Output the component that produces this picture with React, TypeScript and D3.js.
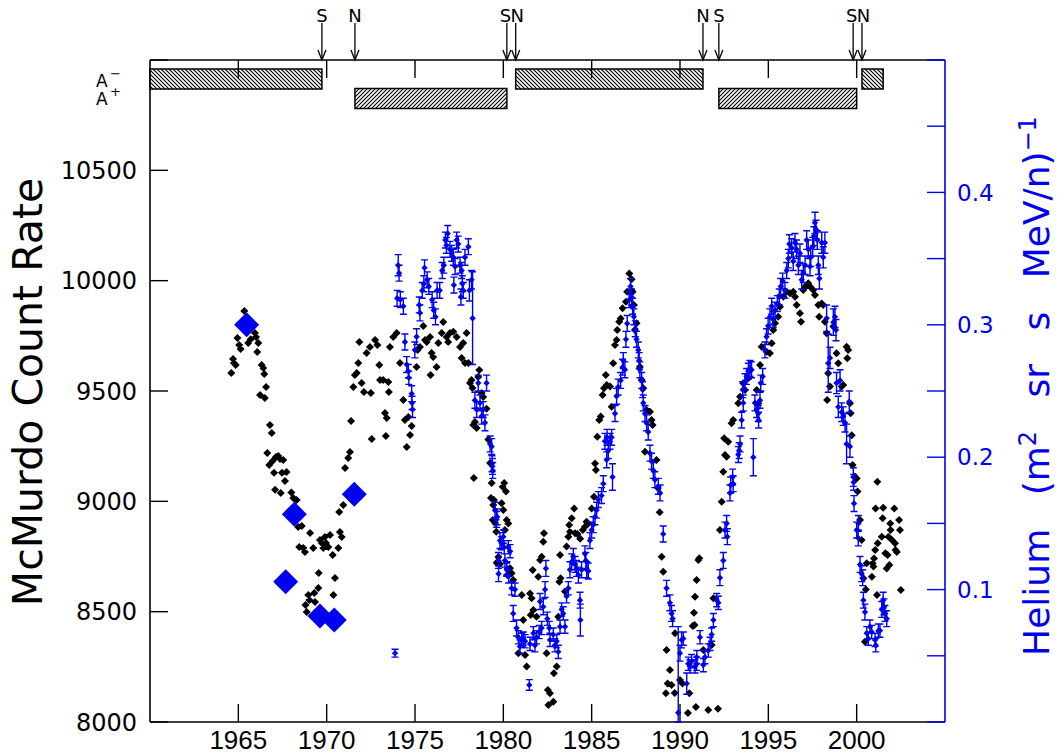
import React from 'react';
import * as d3 from 'd3';

// ---- axis ticks ----
const yearTicks = [1965, 1970, 1975, 1980, 1985, 1990, 1995, 2000];
const countTicks = [8000, 8500, 9000, 9500, 10000, 10500, 11000];
const countLabels = [8000, 8500, 9000, 9500, 10000, 10500];
const heliumTicks = [0, 0.05, 0.1, 0.15, 0.2, 0.25, 0.3, 0.35, 0.4, 0.45, 0.5];
const heliumLabels = [0.1, 0.2, 0.3, 0.4];

// ---- solar polarity epochs (A- / A+) and field reversal markers ----
const polarityMinus: [number, number][] = [[1960, 1969.73], [1980.7, 1991.3], [2000.3, 2001.5]];
const polarityPlus: [number, number][] = [[1971.6, 1980.2], [1992.2, 2000.0]];
const reversalYears = [1969.73, 1971.6, 1980.2, 1980.7, 1991.3, 1992.2, 1999.8, 2000.3];
const reversalPoles = ['S', 'N', 'S', 'N', 'N', 'S', 'S', 'N'];

// ---- older balloon helium measurements ----
const heliumBalloon: [number, number][] = [
  [1965.47, 0.300], [1967.68, 0.106], [1968.17, 0.157], [1969.62, 0.080], [1970.43, 0.077], [1971.56, 0.172],
];

// ---- McMurdo neutron monitor count rate ----
const countRate: [number, number][] = [
  [1964.60, 9582], [1964.70, 9645], [1964.75, 9627], [1964.85, 9618], [1964.95, 9740], [1965.05, 9708], [1965.13, 9690],
  [1965.34, 9863], [1965.56, 9717], [1965.70, 9735], [1965.94, 9763], [1966.00, 9745], [1966.07, 9677], [1966.13, 9717],
  [1966.23, 9482], [1966.32, 9618], [1966.41, 9604], [1966.47, 9577], [1966.50, 9468], [1966.57, 9518], [1966.64, 9219],
  [1966.75, 9165], [1966.79, 9346], [1966.89, 9310], [1966.94, 9183], [1967.02, 9129], [1967.08, 9052], [1967.13, 9201],
  [1967.26, 9206], [1967.36, 9192], [1967.40, 9038], [1967.47, 9129], [1967.54, 9187], [1967.64, 9092], [1967.73, 9133],
  [1968.00, 9040], [1968.11, 9015], [1968.30, 9006], [1968.39, 8884], [1968.45, 8793], [1968.59, 8888], [1968.68, 8789],
  [1968.77, 8770], [1968.80, 8530], [1968.87, 8499], [1968.96, 8576], [1969.02, 8553], [1969.06, 8857], [1969.24, 8789],
  [1969.30, 8585], [1969.34, 8544], [1969.53, 8607], [1969.55, 8675], [1969.62, 8825], [1969.72, 8811], [1969.81, 8789],
  [1969.90, 8838], [1969.96, 8811], [1970.09, 8793], [1970.19, 8847], [1970.34, 8757], [1970.38, 8576], [1970.47, 8653],
  [1970.66, 8789], [1970.71, 8952], [1970.75, 8861], [1970.85, 8838], [1970.94, 8983], [1971.04, 9151], [1971.22, 9196],
  [1971.32, 9224], [1971.38, 9364], [1971.51, 9518], [1971.60, 9573], [1971.70, 9582], [1971.79, 9627], [1971.85, 9722],
  [1971.98, 9536], [1972.11, 9496], [1972.26, 9672], [1972.45, 9699], [1972.50, 9491], [1972.55, 9283], [1972.74, 9731],
  [1972.87, 9708], [1972.98, 9618], [1973.02, 9550], [1973.20, 9550], [1973.30, 9400], [1973.35, 9296], [1973.40, 9378],
  [1973.49, 9541], [1973.52, 9496], [1973.58, 9699], [1973.77, 9745], [1973.96, 9763], [1974.15, 9627], [1974.34, 9459],
  [1974.43, 9369], [1974.53, 9246], [1974.62, 9382], [1974.72, 9301], [1974.81, 9341], [1975.09, 9609], [1975.15, 9686],
  [1975.28, 9699], [1975.47, 9795], [1975.57, 9731], [1975.66, 9722], [1975.85, 9745], [1975.88, 9573], [1975.94, 9672],
  [1976.03, 9654], [1976.22, 9609], [1976.32, 9717], [1976.51, 9763], [1976.60, 9813], [1976.79, 9745], [1976.88, 9722],
  [1976.98, 9763], [1977.17, 9768], [1977.36, 9745], [1977.55, 9699], [1977.64, 9650], [1977.73, 9717], [1977.83, 9627],
  [1977.92, 9763], [1978.02, 9627], [1978.11, 9536], [1978.20, 9550], [1978.25, 9514], [1978.30, 9346], [1978.33, 9106],
  [1978.39, 9360], [1978.49, 9332], [1978.58, 9563], [1978.64, 9595], [1978.77, 9491], [1978.86, 9473], [1979.05, 9420],
  [1979.15, 9280], [1979.25, 9174], [1979.30, 9015], [1979.34, 9083], [1979.40, 8915], [1979.43, 8983], [1979.47, 9006],
  [1979.53, 8902], [1979.60, 8862], [1979.62, 8722], [1979.72, 8748], [1979.81, 8716], [1979.90, 8991], [1979.96, 9066],
  [1980.00, 8961], [1980.05, 9083], [1980.09, 8870], [1980.15, 9044], [1980.19, 8915], [1980.22, 8666], [1980.28, 8900],
  [1980.38, 8697], [1980.47, 8674], [1980.56, 8644], [1980.85, 8311], [1981.04, 8576], [1981.13, 8462], [1981.23, 8304],
  [1981.32, 8251], [1981.51, 8582], [1981.55, 8485], [1981.60, 8561], [1981.66, 8689], [1981.70, 8508], [1981.88, 8477],
  [1981.98, 8658], [1982.08, 8734], [1982.17, 8749], [1982.26, 8817], [1982.30, 8855], [1982.45, 8311], [1982.52, 8145],
  [1982.55, 8077], [1982.64, 8130], [1982.83, 8092], [1982.86, 8221], [1983.02, 8251], [1983.11, 8477], [1983.17, 8636],
  [1983.21, 8757], [1983.24, 8651], [1983.49, 8591], [1983.58, 8795], [1983.68, 8840], [1983.73, 8893], [1983.77, 8862],
  [1983.87, 8923], [1984.01, 8968], [1984.06, 8855], [1984.20, 8852], [1984.35, 8830], [1984.50, 8870], [1984.62, 8885],
  [1984.71, 8908], [1984.81, 8900], [1985.00, 8968], [1985.13, 9021], [1985.19, 9172], [1985.24, 9142], [1985.32, 9293],
  [1985.43, 9369], [1985.51, 9384], [1985.62, 9482], [1985.70, 9512], [1985.80, 9573], [1985.85, 9527], [1986.04, 9520],
  [1986.13, 9429], [1986.22, 9626], [1986.32, 9709], [1986.41, 9731], [1986.45, 9777], [1986.56, 9814], [1986.64, 9829],
  [1986.75, 9875], [1986.94, 9905], [1987.01, 9950], [1987.13, 10033], [1987.26, 10006], [1987.32, 9950], [1987.39, 9890],
  [1987.45, 9777], [1987.54, 9807], [1987.73, 9610], [1987.83, 9550], [1987.92, 9512], [1988.02, 9225], [1988.11, 9414],
  [1988.30, 9406], [1988.39, 9369], [1988.45, 9346], [1988.67, 9187], [1988.75, 9060], [1988.85, 8950], [1988.96, 8749],
  [1989.05, 8681], [1989.20, 8130], [1989.24, 8326], [1989.30, 8175], [1989.43, 8236], [1989.52, 8168], [1989.70, 8131],
  [1989.72, 8402], [1990.00, 8190], [1990.14, 8175], [1990.45, 8041], [1990.53, 8130], [1990.72, 8435], [1990.79, 8495],
  [1990.82, 8440], [1990.85, 8568], [1990.90, 8068], [1990.94, 8644], [1991.04, 8734], [1991.09, 8742], [1991.32, 8326],
  [1991.60, 8054], [1991.79, 8349], [1991.89, 8561], [1992.15, 8060], [1992.26, 8870], [1992.36, 8998], [1992.45, 9134],
  [1992.50, 9286], [1992.55, 9210], [1992.64, 9202], [1992.73, 9270], [1992.92, 9354], [1993.01, 9369], [1993.30, 9444],
  [1993.40, 9474], [1993.58, 9535], [1993.68, 9505], [1993.87, 9558], [1993.96, 9595], [1994.34, 9505], [1994.43, 9444],
  [1994.53, 9618], [1994.62, 9701], [1994.90, 9678], [1995.09, 9671], [1995.19, 9716], [1995.28, 9777], [1995.38, 9807],
  [1995.56, 9837], [1995.66, 9882], [1995.85, 9927], [1996.04, 9950], [1996.23, 9943], [1996.41, 9950], [1996.51, 9927],
  [1996.60, 9890], [1996.79, 9852], [1996.85, 9814], [1996.98, 9958], [1997.08, 9973], [1997.26, 9988], [1997.36, 9973],
  [1997.54, 9958], [1997.64, 9935], [1997.83, 9890], [1997.88, 9837], [1998.02, 9897], [1998.11, 9890], [1998.20, 9814],
  [1998.30, 9762], [1998.33, 9459], [1998.39, 9580], [1998.49, 9520], [1998.68, 9792], [1998.86, 9671], [1998.96, 9626],
  [1999.15, 9520], [1999.24, 9527], [1999.43, 9701], [1999.47, 9648], [1999.52, 9686], [1999.62, 9444], [1999.66, 9399],
  [1999.72, 9300], [1999.77, 9165], [1999.90, 9112], [2000.00, 9104], [2000.05, 9044], [2000.19, 8915], [2000.28, 8825],
  [2000.38, 8651], [2000.47, 8364], [2000.52, 8600], [2000.57, 8719], [2000.86, 8658], [2000.90, 8719], [2000.95, 8705],
  [2000.98, 8741], [2001.05, 8780], [2001.07, 8968], [2001.15, 8576], [2001.17, 9089], [2001.19, 8810], [2001.42, 8840],
  [2001.47, 8923], [2001.50, 8971], [2001.62, 8765], [2001.70, 8696], [2001.75, 8757], [2001.80, 8840], [2001.85, 8712],
  [2001.90, 8900], [2001.92, 8870], [2002.00, 8825], [2002.13, 8968], [2002.17, 8810], [2002.20, 8780], [2002.27, 8770],
  [2002.40, 8915], [2002.45, 8870], [2002.50, 8598],
];

// ---- spacecraft helium flux: [year, flux, error] ----
const heliumFlux: [number, number, number][] = [
  [1973.87, 0.052, 0.003],
  [1973.99, 0.320, 0.006], [1974.05, 0.345, 0.008], [1974.10, 0.339, 0.006], [1974.17, 0.319, 0.006], [1974.34, 0.314, 0.006],
  [1974.43, 0.287, 0.006], [1974.53, 0.270, 0.006], [1974.62, 0.265, 0.005], [1974.65, 0.260, 0.005], [1974.81, 0.248, 0.006],
  [1974.83, 0.241, 0.005], [1974.86, 0.236, 0.006], [1974.99, 0.281, 0.006], [1975.09, 0.291, 0.006], [1975.24, 0.315, 0.006],
  [1975.28, 0.309, 0.006], [1975.41, 0.326, 0.006], [1975.50, 0.331, 0.006], [1975.54, 0.343, 0.006], [1975.69, 0.334, 0.006],
  [1975.78, 0.329, 0.006], [1975.97, 0.319, 0.006], [1976.06, 0.311, 0.006], [1976.16, 0.306, 0.006], [1976.25, 0.326, 0.006],
  [1976.40, 0.326, 0.006], [1976.54, 0.341, 0.006], [1976.63, 0.345, 0.006], [1976.72, 0.364, 0.006], [1976.78, 0.360, 0.006],
  [1976.85, 0.369, 0.006], [1976.98, 0.357, 0.006], [1977.08, 0.354, 0.006], [1977.17, 0.351, 0.006], [1977.20, 0.330, 0.006],
  [1977.27, 0.344, 0.006], [1977.36, 0.364, 0.006], [1977.45, 0.361, 0.006], [1977.55, 0.345, 0.006], [1977.60, 0.321, 0.006],
  [1977.64, 0.341, 0.006], [1977.68, 0.331, 0.006], [1977.73, 0.326, 0.006], [1977.83, 0.351, 0.006], [1978.02, 0.359, 0.006],
  [1978.08, 0.326, 0.008], [1978.20, 0.334, 0.007], [1978.26, 0.305, 0.035], [1978.39, 0.243, 0.006], [1978.49, 0.236, 0.006],
  [1978.58, 0.256, 0.006], [1978.68, 0.241, 0.006], [1978.77, 0.231, 0.006], [1978.86, 0.236, 0.006], [1978.96, 0.226, 0.006],
  [1979.05, 0.256, 0.006], [1979.25, 0.210, 0.006], [1979.34, 0.208, 0.006], [1979.36, 0.195, 0.006], [1979.38, 0.193, 0.006],
  [1979.40, 0.190, 0.006], [1979.53, 0.160, 0.006], [1979.62, 0.153, 0.006], [1979.65, 0.155, 0.006], [1979.72, 0.122, 0.006],
  [1979.73, 0.112, 0.006], [1979.81, 0.137, 0.006], [1979.90, 0.135, 0.005], [1980.00, 0.140, 0.005], [1980.05, 0.132, 0.005],
  [1980.09, 0.122, 0.005], [1980.19, 0.115, 0.005], [1980.20, 0.116, 0.005], [1980.28, 0.132, 0.005], [1980.30, 0.110, 0.005],
  [1980.38, 0.129, 0.005], [1980.47, 0.101, 0.005], [1980.56, 0.082, 0.006], [1980.66, 0.100, 0.005], [1980.75, 0.071, 0.006],
  [1980.85, 0.064, 0.005], [1980.94, 0.057, 0.005], [1981.04, 0.062, 0.005], [1981.13, 0.063, 0.005], [1981.23, 0.061, 0.005],
  [1981.47, 0.028, 0.004], [1981.51, 0.059, 0.005], [1981.70, 0.067, 0.005], [1981.79, 0.058, 0.005], [1981.88, 0.064, 0.005],
  [1982.03, 0.068, 0.005], [1982.08, 0.091, 0.006], [1982.17, 0.071, 0.005], [1982.26, 0.087, 0.006], [1982.36, 0.100, 0.006],
  [1982.41, 0.116, 0.006], [1982.49, 0.078, 0.005], [1982.60, 0.071, 0.005], [1982.64, 0.062, 0.005], [1982.83, 0.066, 0.005],
  [1982.92, 0.058, 0.005], [1983.02, 0.061, 0.005], [1983.11, 0.053, 0.005], [1983.21, 0.072, 0.005], [1983.30, 0.085, 0.005],
  [1983.39, 0.082, 0.005], [1983.49, 0.072, 0.005], [1983.58, 0.095, 0.005], [1983.68, 0.101, 0.005], [1983.77, 0.115, 0.006],
  [1983.87, 0.121, 0.006], [1983.96, 0.125, 0.006], [1984.06, 0.119, 0.006], [1984.15, 0.116, 0.006], [1984.25, 0.111, 0.006],
  [1984.34, 0.092, 0.006], [1984.36, 0.077, 0.012], [1984.43, 0.115, 0.006], [1984.62, 0.127, 0.006], [1984.67, 0.122, 0.006],
  [1984.72, 0.115, 0.006], [1984.81, 0.114, 0.006], [1984.90, 0.137, 0.006], [1985.00, 0.145, 0.006], [1985.09, 0.149, 0.006],
  [1985.19, 0.155, 0.006], [1985.28, 0.160, 0.006], [1985.38, 0.168, 0.006], [1985.56, 0.171, 0.006], [1985.66, 0.180, 0.006],
  [1985.75, 0.212, 0.006], [1985.85, 0.198, 0.006], [1985.87, 0.215, 0.006], [1985.94, 0.205, 0.006], [1986.04, 0.212, 0.006],
  [1986.13, 0.215, 0.006], [1986.18, 0.185, 0.010], [1986.32, 0.233, 0.006], [1986.41, 0.246, 0.006], [1986.50, 0.253, 0.006],
  [1986.64, 0.258, 0.006], [1986.75, 0.268, 0.006], [1986.79, 0.273, 0.006], [1986.88, 0.266, 0.006], [1986.94, 0.289, 0.006],
  [1987.01, 0.301, 0.006], [1987.13, 0.319, 0.006], [1987.20, 0.329, 0.006], [1987.26, 0.321, 0.006], [1987.32, 0.314, 0.006],
  [1987.39, 0.306, 0.006], [1987.47, 0.297, 0.006], [1987.54, 0.289, 0.006], [1987.64, 0.281, 0.006], [1987.69, 0.273, 0.006],
  [1987.73, 0.266, 0.006], [1987.83, 0.258, 0.006], [1987.88, 0.251, 0.006], [1987.92, 0.241, 0.006], [1988.02, 0.233, 0.006],
  [1988.11, 0.226, 0.006], [1988.20, 0.219, 0.006], [1988.30, 0.203, 0.006], [1988.39, 0.197, 0.006], [1988.49, 0.190, 0.006],
  [1988.58, 0.183, 0.006], [1988.77, 0.178, 0.006], [1988.87, 0.173, 0.006], [1989.05, 0.142, 0.006], [1989.24, 0.101, 0.006],
  [1989.43, 0.090, 0.006], [1989.52, 0.082, 0.006], [1989.58, 0.078, 0.006], [1989.90, 0.007, 0.065], [1990.00, 0.052, 0.006],
  [1990.09, 0.062, 0.006], [1990.19, 0.063, 0.005], [1990.38, 0.029, 0.008], [1990.47, 0.044, 0.005], [1990.56, 0.042, 0.005],
  [1990.66, 0.046, 0.005], [1990.85, 0.042, 0.005], [1990.94, 0.044, 0.005], [1990.95, 0.049, 0.005], [1991.13, 0.064, 0.005],
  [1991.32, 0.043, 0.005], [1991.41, 0.049, 0.005], [1991.60, 0.054, 0.005], [1991.70, 0.059, 0.005], [1991.79, 0.066, 0.005],
  [1991.89, 0.077, 0.005], [1992.08, 0.092, 0.005], [1992.17, 0.090, 0.005], [1992.26, 0.109, 0.006], [1992.45, 0.122, 0.006],
  [1992.55, 0.145, 0.006], [1992.64, 0.150, 0.006], [1992.68, 0.140, 0.006], [1992.83, 0.173, 0.006], [1992.87, 0.179, 0.006],
  [1992.98, 0.185, 0.006], [1993.01, 0.180, 0.006], [1993.30, 0.202, 0.006], [1993.35, 0.205, 0.006], [1993.40, 0.210, 0.006],
  [1993.49, 0.228, 0.006], [1993.55, 0.251, 0.006], [1993.58, 0.241, 0.006], [1993.68, 0.257, 0.006], [1993.77, 0.261, 0.006],
  [1993.87, 0.265, 0.006], [1993.96, 0.267, 0.006], [1994.05, 0.266, 0.006], [1994.15, 0.200, 0.014], [1994.24, 0.241, 0.006],
  [1994.34, 0.236, 0.006], [1994.43, 0.233, 0.006], [1994.45, 0.228, 0.006], [1994.53, 0.243, 0.006], [1994.57, 0.256, 0.006],
  [1994.68, 0.261, 0.006], [1994.81, 0.281, 0.006], [1994.90, 0.291, 0.006], [1994.99, 0.299, 0.006], [1995.09, 0.306, 0.006],
  [1995.19, 0.314, 0.006], [1995.28, 0.304, 0.006], [1995.38, 0.311, 0.006], [1995.51, 0.316, 0.006], [1995.62, 0.321, 0.006],
  [1995.70, 0.329, 0.006], [1995.81, 0.333, 0.006], [1995.94, 0.326, 0.006], [1996.04, 0.341, 0.006], [1996.13, 0.350, 0.007],
  [1996.19, 0.361, 0.007], [1996.32, 0.358, 0.007], [1996.41, 0.348, 0.007], [1996.51, 0.362, 0.007], [1996.60, 0.357, 0.007],
  [1996.70, 0.345, 0.007], [1996.79, 0.354, 0.007], [1996.89, 0.334, 0.007], [1996.98, 0.339, 0.007], [1997.08, 0.345, 0.007],
  [1997.17, 0.364, 0.007], [1997.26, 0.357, 0.007], [1997.36, 0.344, 0.007], [1997.40, 0.351, 0.007], [1997.51, 0.359, 0.007],
  [1997.58, 0.367, 0.007], [1997.64, 0.377, 0.008], [1997.70, 0.372, 0.007], [1997.77, 0.364, 0.007], [1997.83, 0.345, 0.007],
  [1997.89, 0.335, 0.008], [1998.02, 0.362, 0.008], [1998.11, 0.351, 0.008], [1998.20, 0.362, 0.008], [1998.30, 0.305, 0.010],
  [1998.39, 0.271, 0.022], [1998.49, 0.275, 0.008], [1998.68, 0.302, 0.010], [1998.77, 0.306, 0.008], [1998.83, 0.296, 0.008],
  [1998.86, 0.256, 0.008], [1998.96, 0.238, 0.008], [1999.06, 0.258, 0.008], [1999.15, 0.234, 0.007], [1999.24, 0.231, 0.007],
  [1999.34, 0.226, 0.007], [1999.43, 0.210, 0.015], [1999.58, 0.242, 0.008], [1999.62, 0.208, 0.008], [1999.81, 0.185, 0.007],
  [1999.83, 0.181, 0.006], [1999.85, 0.165, 0.006], [2000.00, 0.145, 0.006], [2000.09, 0.139, 0.006], [2000.10, 0.150, 0.006],
  [2000.19, 0.119, 0.006], [2000.28, 0.112, 0.006], [2000.34, 0.109, 0.006], [2000.38, 0.092, 0.006], [2000.47, 0.083, 0.006],
  [2000.57, 0.067, 0.005], [2000.66, 0.063, 0.005], [2000.75, 0.072, 0.005], [2000.85, 0.068, 0.005], [2001.04, 0.062, 0.005],
  [2001.08, 0.058, 0.005], [2001.23, 0.069, 0.005], [2001.32, 0.069, 0.005], [2001.42, 0.085, 0.006], [2001.50, 0.092, 0.006],
  [2001.55, 0.087, 0.006], [2001.60, 0.082, 0.006], [2001.70, 0.078, 0.006],
];

const BLUE = '#0000f0';
const FONT = "'DejaVu Sans', 'Liberation Sans', sans-serif";
const YEAR_FONT = "'Liberation Sans', Arial, sans-serif";

const diamond = (cx: number, cy: number, r: number) =>
  `M${cx.toFixed(2)},${(cy - r).toFixed(2)}L${(cx + r).toFixed(2)},${cy.toFixed(2)}L${cx.toFixed(2)},${(cy + r).toFixed(2)}L${(cx - r).toFixed(2)},${cy.toFixed(2)}Z`;

export default function App() {
  const left = 150, right = 945, top = 60, bottom = 722;
  const x = d3.scaleLinear().domain([1960, 2005]).range([left, right]);
  const yCount = d3.scaleLinear().domain([8000, 11000]).range([bottom, top]);
  const yHe = d3.scaleLinear().domain([0, 0.5]).range([bottom, top]);
  const tickLen = 18;

  const blackPath = countRate.map(([t, v]) => diamond(x(t), yCount(v), 4)).join('');

  const errPath = heliumFlux
    .map(([t, v, e]) => {
      const cx = x(t);
      const y1 = yHe(Math.max(0, v - e));
      const y2 = yHe(Math.min(0.5, v + e));
      return `M${cx},${y1}V${y2}M${cx - 3.5},${y1}H${cx + 3.5}M${cx - 3.5},${y2}H${cx + 3.5}`;
    })
    .join('');
  const bluePath = heliumFlux.map(([t, v]) => diamond(x(t), yHe(v), 3.2)).join('');

  const rowMinus: [number, number] = [69, 89];
  const rowPlus: [number, number] = [88.5, 108.5];

  // small horizontal nudge so the paired S/N letters sit side by side
  const poleShift = (i: number) => {
    const prev = reversalYears[i - 1], next = reversalYears[i + 1];
    if (next !== undefined && next - reversalYears[i] < 0.8) return -1.5;
    if (prev !== undefined && reversalYears[i] - prev < 0.8) return 1.5;
    return 0;
  };

  return (
    <svg
      width={1061}
      height={755}
      viewBox="0 0 1061 755"
      style={{ position: 'absolute', left: 0, top: 0, background: '#fff' }}
    >
      <defs>
        <pattern id="hatchMinus" patternUnits="userSpaceOnUse" width="4" height="4">
          <path d="M-1,-1L5,5M-1,3L1,5M3,-1L5,1" stroke="#000" strokeWidth="1.15" />
        </pattern>
        <pattern id="hatchPlus" patternUnits="userSpaceOnUse" width="4" height="4">
          <path d="M-1,5L5,-1M-1,1L1,-1M3,5L5,3" stroke="#000" strokeWidth="1.15" />
        </pattern>
      </defs>

      {/* polarity epochs */}
      {polarityMinus.map(([a, b], i) => (
        <rect key={`m${i}`} x={x(a)} y={rowMinus[0]} width={x(b) - x(a)} height={rowMinus[1] - rowMinus[0]}
          fill="url(#hatchMinus)" stroke="#000" strokeWidth={1.5} />
      ))}
      {polarityPlus.map(([a, b], i) => (
        <rect key={`p${i}`} x={x(a)} y={rowPlus[0]} width={x(b) - x(a)} height={rowPlus[1] - rowPlus[0]}
          fill="url(#hatchPlus)" stroke="#000" strokeWidth={1.5} />
      ))}
      <g fontFamily={FONT} fill="#000">
        <text x={96} y={87} fontSize={17}>A</text>
        <text x={110} y={78} fontSize={13}>−</text>
        <text x={96} y={105} fontSize={17}>A</text>
        <text x={110} y={96} fontSize={13}>+</text>
      </g>

      {/* reversal arrows */}
      {reversalYears.map((t, i) => {
        const cx = x(t);
        return (
          <g key={`r${i}`}>
            <line x1={cx} y1={23} x2={cx} y2={top} stroke="#000" strokeWidth={1.3} />
            <path d={`M${cx - 4},${top - 10}L${cx},${top}L${cx + 4},${top - 10}`} fill="none" stroke="#000" strokeWidth={1.3} />
            <text x={cx + poleShift(i)} y={21.5} fontSize={18} fontFamily={FONT} textAnchor="middle">{reversalPoles[i]}</text>
          </g>
        );
      })}

      {/* frame */}
      <line x1={left} y1={top} x2={right} y2={top} stroke="#000" strokeWidth={1.6} />
      <line x1={left} y1={top} x2={left} y2={bottom} stroke="#000" strokeWidth={1.6} />
      <line x1={left} y1={bottom} x2={right} y2={bottom} stroke="#000" strokeWidth={1.6} />

      {/* year ticks, bottom and top */}
      {yearTicks.map((t) => (
        <g key={`yt${t}`}>
          <line x1={x(t)} y1={bottom} x2={x(t)} y2={bottom - tickLen} stroke="#000" strokeWidth={1.4} />
          <line x1={x(t)} y1={top} x2={x(t)} y2={top + tickLen} stroke="#000" strokeWidth={1.4} />
          <text x={x(t)} y={749} fontSize={26} fontFamily={YEAR_FONT} textAnchor="middle">{t}</text>
        </g>
      ))}

      {/* count-rate axis */}
      {countTicks.map((v) => (
        <line key={`ct${v}`} x1={left} y1={yCount(v)} x2={left + tickLen} y2={yCount(v)} stroke="#000" strokeWidth={1.4} />
      ))}
      {countLabels.map((v) => (
        <text key={`cl${v}`} x={137} y={yCount(v)} dy="0.36em" fontSize={24} fontFamily={FONT} textAnchor="end">{v}</text>
      ))}
      <text transform={`translate(42,${392}) rotate(-90)`} fontSize={41} fontFamily={FONT} textAnchor="middle">McMurdo Count Rate</text>

      {/* helium axis */}
      <line x1={right} y1={top} x2={right} y2={bottom} stroke={BLUE} strokeWidth={1.6} />
      {heliumTicks.map((v) => (
        <line key={`ht${v}`} x1={right} y1={yHe(v)} x2={right - tickLen} y2={yHe(v)} stroke={BLUE} strokeWidth={1.4} />
      ))}
      {heliumLabels.map((v) => (
        <text key={`hl${v}`} x={957} y={yHe(v)} dy="0.36em" fontSize={23} fontFamily={FONT} fill={BLUE}>{v.toFixed(1)}</text>
      ))}
      <text transform={`translate(1049,${386}) rotate(-90)`} fontSize={36} fontFamily={FONT} textAnchor="middle"
        fill={BLUE} wordSpacing={22}>
        Helium (m<tspan dy="-13" fontSize={24}>2</tspan><tspan dy="13"> sr s MeV/n)</tspan>
        <tspan dy="-13" fontSize={24}>−1</tspan>
      </text>

      {/* data */}
      <path d={blackPath} fill="#000" />
      <path d={errPath} fill="none" stroke={BLUE} strokeWidth={1.4} />
      <path d={bluePath} fill={BLUE} />
      {heliumBalloon.map(([t, v], i) => (
        <path key={`b${i}`} d={diamond(x(t), yHe(v), 12.5)} fill={BLUE} />
      ))}
    </svg>
  );
}
